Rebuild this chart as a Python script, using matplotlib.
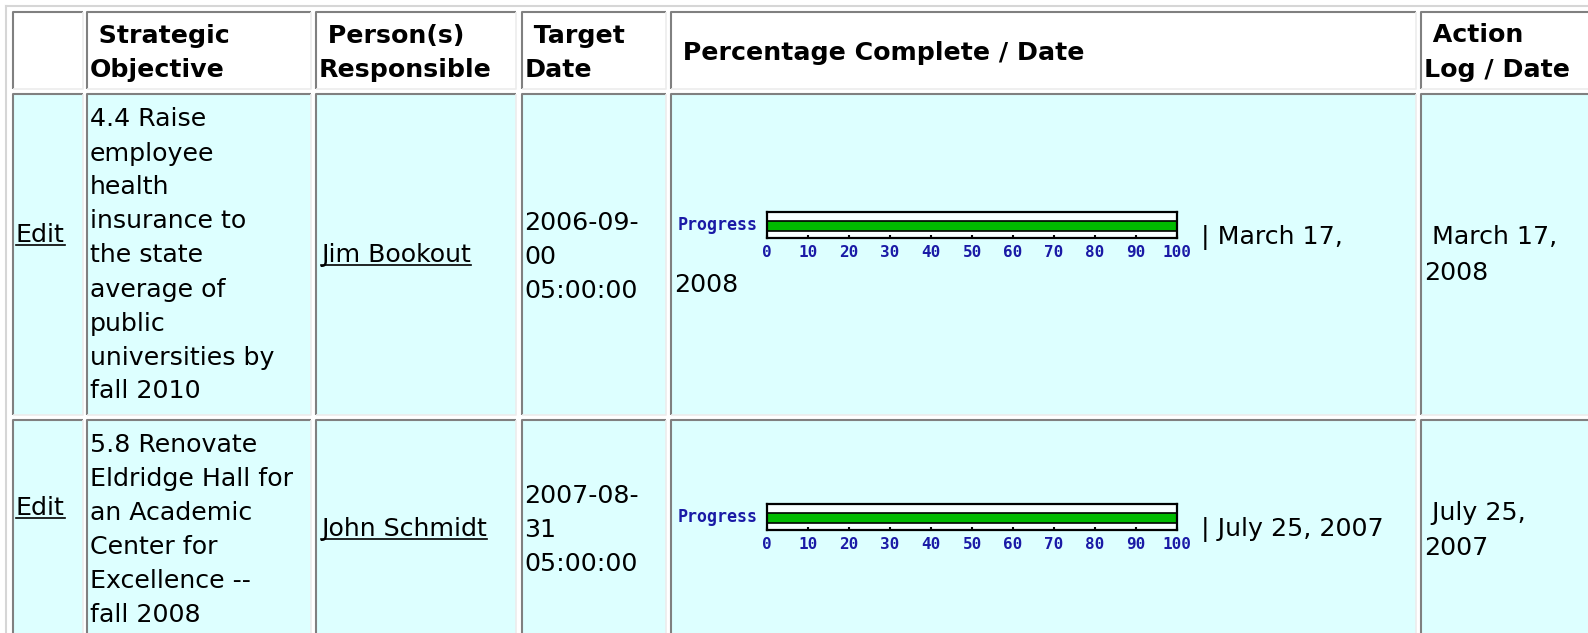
import matplotlib.pyplot as plt
from matplotlib.patches import Rectangle

W, H = 1588, 633

# table data
headers = [[], [" Strategic", "Objective"], [" Person(s)", "Responsible"],
           [" Target", "Date"], [" Percentage Complete / Date"], [" Action", "Log / Date"]]
edit_label = "Edit"
objectives = [["4.4 Raise", "employee", "health", "insurance to", "the state",
               "average of", "public", "universities by", "fall 2010"],
              ["5.8 Renovate", "Eldridge Hall for", "an Academic", "Center for",
               "Excellence --", "fall 2008"]]
persons = ["Jim Bookout", "John Schmidt"]
target_dates = [["2006-09-", "00", "05:00:00"], ["2007-08-", "31", "05:00:00"]]
progress = [100, 100]
progress_text = [["| March 17,", "2008"], ["| July 25, 2007"]]
action_dates = [[" March 17,", "2008"], [" July 25,", "2007"]]
ticks = [0, 10, 20, 30, 40, 50, 60, 70, 80, 90, 100]

# layout (pixels)
col_left = [13, 87, 316, 522, 671, 1421]
col_right = [83, 311, 516, 666, 1416, 1610]
row_top = [12, 94, 420]
row_bottom = [89, 415, 660]
header_y = [[], [33.5, 68], [33.5, 68], [33.5, 68], [51], [33.5, 68]]
edit_y = [233, 506]
obj_y0 = [117.5, 443]
line_step = 34
person_y = [253, 527]
target_y = [[221, 255, 289], [494, 528, 562]]
prog_text_pos = [[(1201, 235), (674, 282.5)], [(1201, 527)]]
action_y = [[235, 271], [511, 546]]
bar_top = [212, 504]
bar_left, bar_right, bar_h = 767, 1177, 26

FS = 18.2
NAVY = '#1a1aa6'
BG = '#ddffff'

fig = plt.figure(figsize=(W / 100, H / 100), dpi=100)
ax = fig.add_axes([0, 0, 1, 1])
ax.set_xlim(0, W)
ax.set_ylim(H, 0)
ax.axis('off')

# outer table border
ax.plot([6, W], [6, 6], color='#d6d6d6', lw=1.5)
ax.plot([6, 6], [6, H], color='#d6d6d6', lw=1.5)

# cells
for r in range(3):
    for c in range(6):
        x0, x1, y0, y1 = col_left[c], col_right[c], row_top[r], row_bottom[r]
        ax.add_patch(Rectangle((x0, y0), x1 - x0, y1 - y0,
                               fc='white' if r == 0 else BG, ec='none'))
        ax.plot([x0, x0, x1], [y1, y0, y0], color='#808080', lw=1.5,
                solid_capstyle='butt')
        ax.plot([x0, x1, x1], [y1, y1, y0], color='#ececec', lw=1.2,
                solid_capstyle='butt')


def txt(x, yc, s, bold=False):
    return ax.text(x, yc + 9, s, ha='left', va='baseline', fontsize=FS,
                   fontweight='bold' if bold else 'normal', color='black',
                   family='DejaVu Sans')


underlined = []

# header
for c, lines in enumerate(headers):
    for s, y in zip(lines, header_y[c]):
        txt(col_left[c] + 3, y, s, bold=True)

# body rows
for i in range(2):
    underlined.append(txt(col_left[0] + 3, edit_y[i], edit_label))
    for k, s in enumerate(objectives[i]):
        txt(col_left[1] + 3, obj_y0[i] + k * line_step, s)
    underlined.append(txt(col_left[2] + 5, person_y[i], persons[i]))
    for s, y in zip(target_dates[i], target_y[i]):
        txt(col_left[3] + 2, y, s)
    for s, (x, y) in zip(progress_text[i], prog_text_pos[i]):
        txt(x, y, s)
    for s, y in zip(action_dates[i], action_y[i]):
        txt(col_left[5] + 3, y, s)

    # progress chart
    ax.text(bar_left - 9, bar_top[i] + 13, "Progress", ha='right', va='center',
            fontsize=12, fontweight='bold', color=NAVY, family='DejaVu Sans Mono')
    pax = fig.add_axes([bar_left / W, 1 - (bar_top[i] + bar_h) / H,
                        (bar_right - bar_left) / W, bar_h / H])
    pax.set_facecolor('#f8ffff')
    pax.barh([0], [progress[i]], height=1.0, color='#00bb00', edgecolor='black', lw=1.2)
    pax.set_xlim(0, 100)
    pax.set_ylim(-1.2, 1.4)
    pax.set_yticks([])
    pax.set_xticks(ticks)
    pax.set_xticklabels([str(t) for t in ticks], family='DejaVu Sans Mono',
                        fontweight='bold', fontsize=11.5, color=NAVY)
    pax.tick_params(axis='x', direction='in', length=2.5, width=1.5, pad=5)
    for sp in pax.spines.values():
        sp.set_linewidth(1.6)
        sp.set_color('black')

# underline links
fig.canvas.draw()
renderer = fig.canvas.get_renderer()
inv = ax.transData.inverted()
for t in underlined:
    bb = t.get_window_extent(renderer)
    (xa, _), (xb, _) = inv.transform([(bb.x0, bb.y0), (bb.x1, bb.y1)])
    yb = t.get_position()[1] + 3
    ax.plot([xa, xb], [yb, yb], color='black', lw=1.2)

fig.savefig("out.png", dpi=100)
